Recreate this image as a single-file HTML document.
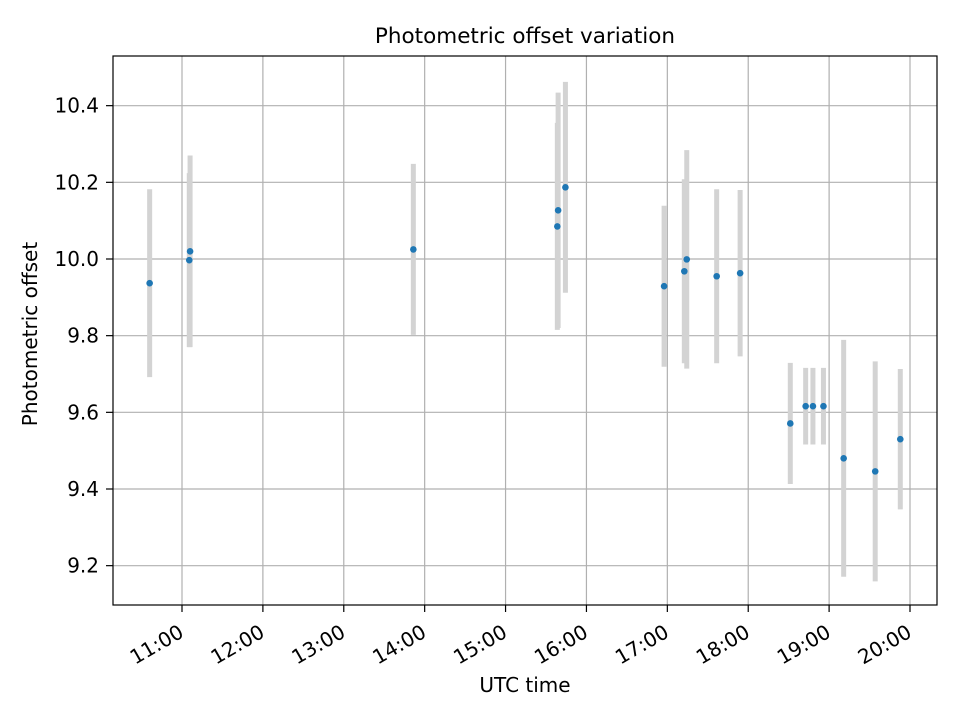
<!DOCTYPE html>
<html><head><meta charset="utf-8"><style>
html,body{margin:0;padding:0;background:#fff;}
svg text{font-family:"DejaVu Sans","Liberation Sans",sans-serif;fill:#000;}
</style></head><body>
<svg id="chart" width="960" height="720" viewBox="0 0 960 720" xmlns="http://www.w3.org/2000/svg">
<rect x="0" y="0" width="960" height="720" fill="#fff"/>
<g id="grid"></g>
<g id="errbars"></g>
<g id="points"></g>
<rect x="113" y="56" width="824" height="549" fill="none" stroke="#000" stroke-width="1.2"/>
<g id="axes"></g>
<text x="525" y="43" text-anchor="middle" font-size="21.5">Photometric offset variation</text>
<text x="525" y="692" text-anchor="middle" font-size="20">UTC time</text>
<text transform="translate(37,334) rotate(-90)" text-anchor="middle" font-size="20">Photometric offset</text>
</svg>
<script>
const hours = [10.60,11.09,11.10,13.86,15.64,15.65,15.74,16.96,17.21,17.24,17.61,17.90,18.52,18.71,18.80,18.93,19.18,19.57,19.88];
const offsets = [9.937,9.997,10.020,10.025,10.085,10.127,10.187,9.929,9.968,9.999,9.955,9.963,9.571,9.616,9.616,9.616,9.480,9.446,9.530];
const errors = [0.245,0.227,0.25,0.223,0.27,0.307,0.275,0.21,0.24,0.285,0.227,0.217,0.158,0.1,0.1,0.1,0.309,0.287,0.183];
const xTickHours = [11,12,13,14,15,16,17,18,19,20];
const xTickLabels = ["11:00","12:00","13:00","14:00","15:00","16:00","17:00","18:00","19:00","20:00"];
const yTicks = [9.2,9.4,9.6,9.8,10.0,10.2,10.4];
const yTickLabels = ["9.2","9.4","9.6","9.8","10.0","10.2","10.4"];

const NS="http://www.w3.org/2000/svg";
const L=113,R=937,T=56,B=605;
function xs(h){return 182+(h-11)*(728/9);}
function ys(v){return 259-(v-10)*(460/1.2);}
function mk(tag,attrs,parent){const e=document.createElementNS(NS,tag);for(const k in attrs)e.setAttribute(k,attrs[k]);parent.appendChild(e);return e;}
const grid=document.getElementById('grid'),axes=document.getElementById('axes');
xTickHours.forEach((h,i)=>{
  const x=xs(h);
  const g=mk('line',{x1:x,x2:x,y1:T,y2:B,stroke:'#b0b0b0','stroke-width':1.2},grid);
  
  
  const t=mk('line',{x1:x,x2:x,y1:B,y2:B+7,stroke:'#000','stroke-width':1.2},axes);
  
  
  const lb=mk('text',{'text-anchor':'end','font-size':20,transform:`translate(${x+3},636) rotate(-30)`},axes);
  lb.textContent=xTickLabels[i];
  
  
});
yTicks.forEach((v,i)=>{
  const y=ys(v);
  const g=mk('line',{x1:L,x2:R,y1:y,y2:y,stroke:'#b0b0b0','stroke-width':1.2},grid);
  
  
  const t=mk('line',{x1:L-7,x2:L,y1:y,y2:y,stroke:'#000','stroke-width':1.2},axes);
  
  
  const lb=mk('text',{x:L-14,y:y+7,'text-anchor':'end','font-size':20},axes);
  lb.textContent=yTickLabels[i];
  
  
});
const eb=document.getElementById('errbars'),pts=document.getElementById('points');
hours.forEach((h,i)=>{
  const x=xs(h);
  const b=mk('line',{x1:x,x2:x,y1:ys(offsets[i]+errors[i]),y2:ys(offsets[i]-errors[i]),stroke:'#d3d3d3','stroke-width':5},eb);
  
  
});
hours.forEach((h,i)=>{
  const c=mk('circle',{cx:xs(h),cy:ys(offsets[i]),r:3.3,fill:'#1f77b4'},pts);
  
  
});
</script>
</body></html>
